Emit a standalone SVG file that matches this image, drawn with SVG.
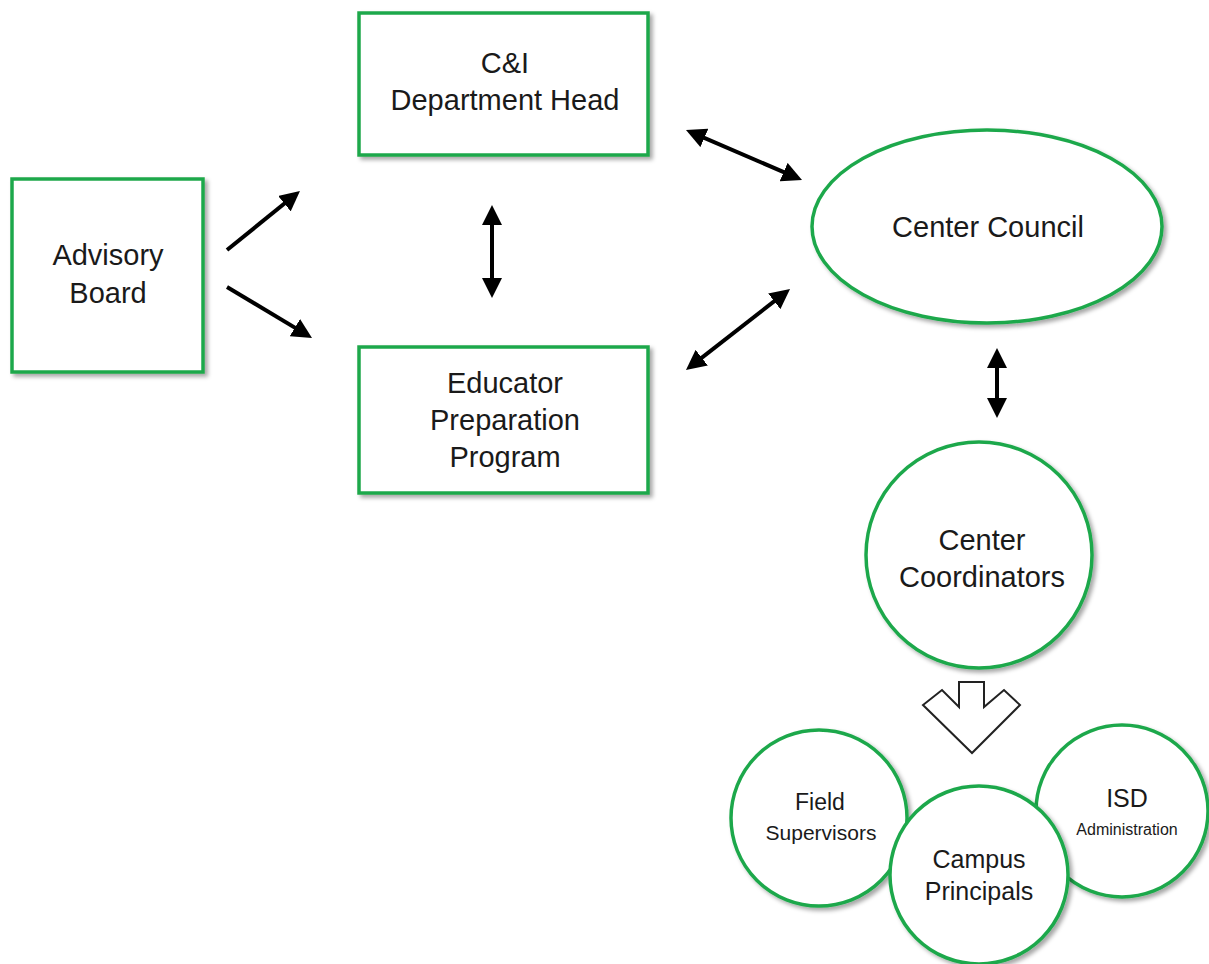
<svg xmlns="http://www.w3.org/2000/svg" width="1209" height="964" viewBox="0 0 1209 964">
  <style>
    .box { fill: #ffffff; stroke: #1fa84b; stroke-width: 3.5; filter: url(#shadow); }
    .lbl { font-family: "Liberation Sans", Arial, sans-serif; fill: #1a1a1a; text-anchor: middle; }
    .big { font-size: 29px; }
    .mid { font-size: 25px; }
    .conn { stroke: #000000; stroke-width: 4; fill: none; marker-end: url(#head); }
    .both { marker-start: url(#head); }
  </style>
  <defs>
    <filter id="shadow" x="-10%" y="-10%" width="125%" height="125%">
      <feDropShadow dx="3" dy="3" stdDeviation="2" flood-color="#000000" flood-opacity="0.35"/>
    </filter>
    <marker id="head" viewBox="0 0 20 20" markerUnits="userSpaceOnUse" markerWidth="20" markerHeight="20" refX="14" refY="10" orient="auto-start-reverse">
      <path d="M0,0 L20,10 L0,20 z" fill="#000000"/>
    </marker>
  </defs>
  <rect width="1209" height="964" fill="#ffffff"/>

  <g id="connectors">
    <line class="conn" x1="227" y1="250" x2="295.3" y2="194.8"/>
    <line class="conn" x1="227" y1="287" x2="306.9" y2="334.9"/>
    <line class="conn both" x1="492" y1="211" x2="492" y2="292"/>
    <line class="conn both" x1="691.5" y1="132.4" x2="796.5" y2="177.6"/>
    <line class="conn both" x1="690.7" y1="366.3" x2="785.3" y2="292.7"/>
    <line class="conn both" x1="997" y1="354" x2="997" y2="412"/>
    <path id="block-arrow" d="M959,707 L942,690 L923,705 L972,753 L1020,705 L1004,690 L984,707 L984,682 L959,682 Z" fill="#ffffff" stroke="#222222" stroke-width="2" stroke-linejoin="miter"/>
  </g>

  <g id="advisory-board">
    <rect class="box" x="12" y="179" width="191" height="193"/>
    <text class="lbl big" x="108" y="265">Advisory</text>
    <text class="lbl big" x="108" y="303">Board</text>
  </g>

  <g id="ci-department-head">
    <rect class="box" x="359" y="13" width="289" height="142"/>
    <text class="lbl big" x="505" y="73">C&amp;I</text>
    <text class="lbl big" x="505" y="110">Department Head</text>
  </g>

  <g id="educator-preparation-program">
    <rect class="box" x="359" y="347" width="289" height="146"/>
    <text class="lbl big" x="505" y="393">Educator</text>
    <text class="lbl big" x="505" y="430">Preparation</text>
    <text class="lbl big" x="505" y="467">Program</text>
  </g>

  <g id="center-council">
    <ellipse class="box" cx="987" cy="226.5" rx="175" ry="96.5"/>
    <text class="lbl big" x="988" y="237">Center Council</text>
  </g>

  <g id="center-coordinators">
    <circle class="box" cx="979" cy="555" r="113"/>
    <text class="lbl big" x="982" y="550">Center</text>
    <text class="lbl big" x="982" y="587">Coordinators</text>
  </g>

  <g id="field-supervisors">
    <circle class="box" cx="819" cy="818" r="88"/>
    <text class="lbl" x="820" y="810" font-size="23">Field</text>
    <text class="lbl" x="821" y="840" font-size="21">Supervisors</text>
  </g>

  <g id="isd-administration">
    <circle class="box" cx="1122" cy="811" r="86"/>
    <text class="lbl mid" x="1127" y="807">ISD</text>
    <text class="lbl" x="1127" y="835" font-size="16">Administration</text>
  </g>

  <g id="campus-principals">
    <circle class="box" cx="979" cy="875" r="89"/>
    <text class="lbl mid" x="979" y="868">Campus</text>
    <text class="lbl mid" x="979" y="900">Principals</text>
  </g>
</svg>
